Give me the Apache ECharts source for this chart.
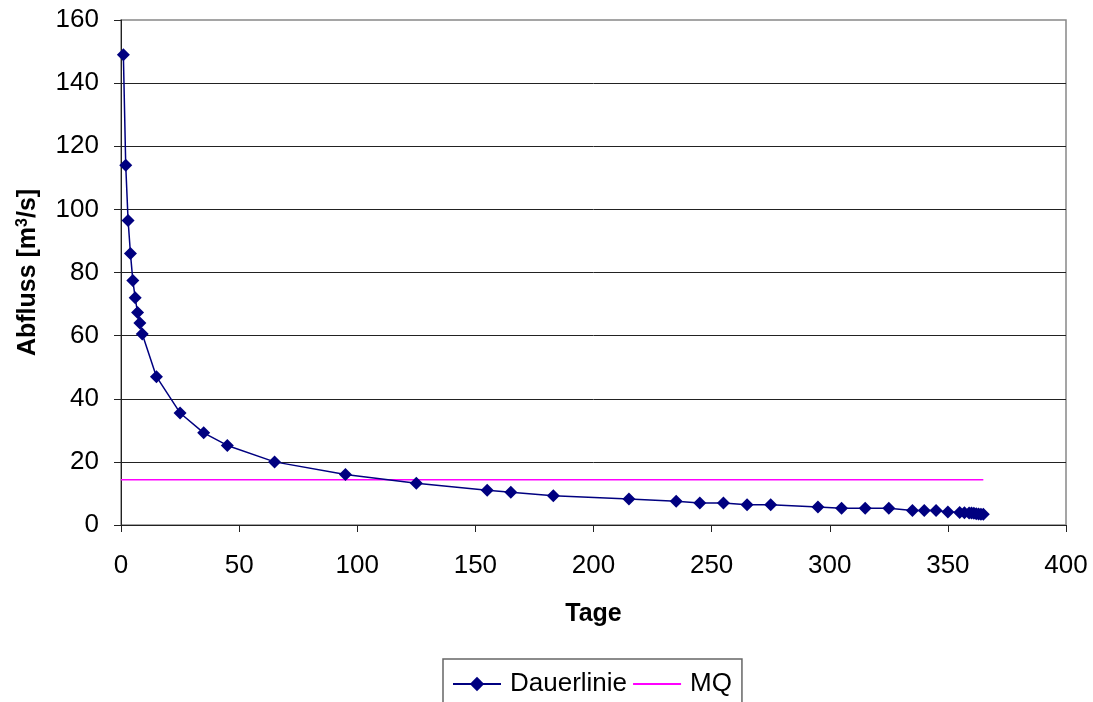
<!DOCTYPE html>
<html>
<head>
<meta charset="utf-8">
<script src="https://cdn.jsdelivr.net/npm/echarts@6/dist/echarts.min.js"></script>
<style>
html,body{margin:0;padding:0;background:#fff;}
#c{width:1093px;height:702px;}
</style>
</head>
<body>
<div id="c"></div>
<script>
var days = [1,2,3,4,5,6,7,8,9,15,25,35,45,65,95,125,155,165,183,215,235,245,255,265,275,295,305,315,325,335,340,345,350,355,357,359,360,361,362,363,364,365];
var flow = [149,114,96.5,86,77.5,72,67.3,64,60.5,47,35.5,29.2,25.2,20,16,13.2,11,10.4,9.3,8.2,7.5,7,7,6.4,6.4,5.7,5.3,5.3,5.3,4.6,4.6,4.6,4.1,4.0,3.9,3.8,3.8,3.7,3.6,3.5,3.4,3.4];
var mqDays = [0,365];
var mqValue = [14.3,14.3];
var xTicks = [0,50,100,150,200,250,300,350,400];
var yTicks = [0,20,40,60,80,100,120,140,160];

var chart = echarts.init(document.getElementById('c'));
var font = '"Liberation Sans", Arial, sans-serif';
chart.setOption({
  animation:false,
  backgroundColor:'#fff',
  textStyle:{fontFamily:font},
  grid:{left:121,right:27,top:20,bottom:177,show:true,borderColor:'#888',borderWidth:1.5},
  xAxis:{
    type:'value',min:xTicks[0],max:xTicks[xTicks.length-1],interval:50,
    name:'Tage',nameLocation:'middle',nameGap:77,
    nameTextStyle:{fontFamily:font,fontSize:25,fontWeight:'bold',color:'#000'},
    axisLine:{onZero:false,lineStyle:{color:'#222',width:1}},
    axisTick:{show:true,inside:false,length:7,lineStyle:{color:'#222'}},
    axisLabel:{fontFamily:font,fontSize:26,color:'#000',margin:28},
    splitLine:{show:false}
  },
  yAxis:{
    type:'value',min:yTicks[0],max:yTicks[yTicks.length-1],interval:20,
    name:'{a|Abfluss [m}{s|3}{a|/s]}',nameLocation:'middle',nameGap:80,nameRotate:90,
    nameTextStyle:{
      rich:{
        a:{fontFamily:font,fontSize:25,fontWeight:'bold',color:'#000'},
        s:{fontFamily:font,fontSize:16,fontWeight:'bold',color:'#000',verticalAlign:'top',padding:[0,0,10,0]}
      }
    },
    axisLine:{show:true,lineStyle:{color:'#222',width:1}},
    axisTick:{show:true,inside:false,length:7,lineStyle:{color:'#222'}},
    axisLabel:{fontFamily:font,fontSize:26,color:'#000',margin:22},
    splitLine:{show:true,showMaxLine:false,lineStyle:{color:'#222',width:1}}
  },
  legend:{
    top:659,left:443,
    data:[{name:'Dauerlinie'},{name:'MQ',itemStyle:{opacity:0}}],
    borderColor:'#666',borderWidth:1.5,borderRadius:0,
    padding:[12,10,40,9],
    itemWidth:48,itemHeight:18,itemGap:5,
    textStyle:{fontFamily:font,fontSize:26,color:'#000',padding:[0,0,0,4]}
  },
  series:[
    {
      name:'Dauerlinie',type:'line',
      data:days.map(function(d,i){return [d,flow[i]];}),
      symbol:'diamond',symbolSize:13,
      lineStyle:{color:'#000080',width:1.5},
      itemStyle:{color:'#000080'},
      z:3
    },
    {
      name:'MQ',type:'line',
      data:mqDays.map(function(d,i){return [d,mqValue[i]];}),
      symbol:'none',
      lineStyle:{color:'#ff00ff',width:1.5},
      itemStyle:{color:'#ff00ff'},
      z:2
    }
  ]
});
</script>
</body>
</html>
